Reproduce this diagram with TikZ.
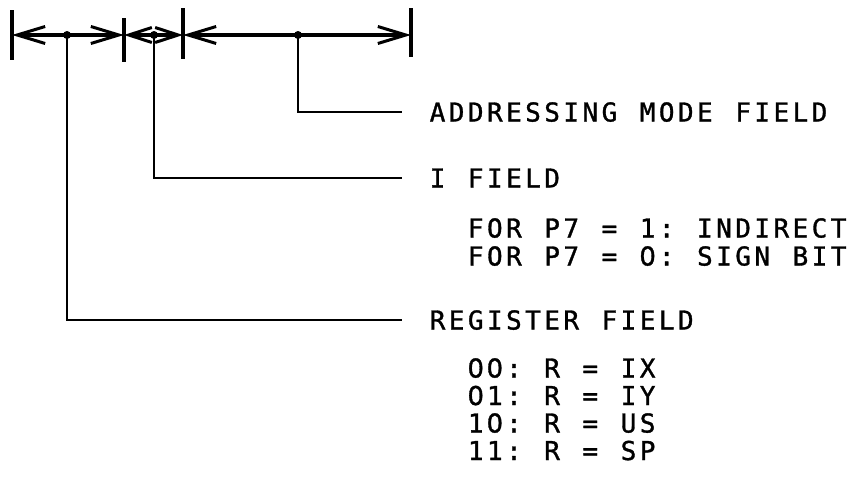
\documentclass[tikz,border=0pt]{standalone}
\usepackage{fontspec}
\newfontfamily\monof{DejaVu Sans Mono}[BoldFont={*},BoldFeatures={FakeBold=1.2}]
\newfontfamily\zerof{DejaVu Sans}[BoldFont={*},BoldFeatures={FakeBold=1.2}]
\usetikzlibrary{arrows.meta}
\newlength\cellwd
\setlength\cellwd{19.1pt}
\newcommand\Zr{{\zerof 0}}
\def\mycellloop#1{\ifx#1\relax\else\makebox[\cellwd][c]{#1}\expandafter\mycellloop\fi}
\newcommand\monotext[1]{\mycellloop#1\relax}
\begin{document}
\begin{tikzpicture}[x=1pt,y=-1pt,
  dim/.style={line width=3.2pt},
  lead/.style={line width=2.6pt},
  barb/.style={-{Straight Barb[length=28pt,width=17pt,line width=3pt]}},
  sbarb/.style={-{Straight Barb[length=23pt,width=15pt,line width=3pt]}},
  lbl/.style={inner sep=0pt, outer xsep=26pt, outer ysep=0pt, anchor=west,
    text height=19pt, text depth=0pt, font=\monof\bfseries\fontsize{26}{28}\selectfont},
  dotc/.style={circle, fill, inner sep=0pt, minimum size=8pt}
]
\useasboundingbox (0,0) rectangle (851,479);
% tick positions
\coordinate (t0) at (12,35);
\coordinate (t1) at (124,35);
\coordinate (t2) at (183,35);
\coordinate (t3) at (411,35);
% ticks
\draw[dim] ([yshift=25pt]t0) -- ([yshift=-25pt]t0);
\draw[dim] ([yshift=17pt]t1) -- ([yshift=-27pt]t1);
\draw[dim] ([yshift=27pt]t2) -- ([yshift=-24pt]t2);
\draw[dim] ([yshift=27pt]t3) -- ([yshift=-22pt]t3);
% labels
\node[lbl] (addr) at (402,112) {\monotext{ADDRESSING\ MODE\ FIELD}};
\node[lbl] (ifld) at (402,178) {\monotext{I\ FIELD}};
\node[lbl] (forA) at (440.2,228) {\monotext{FOR\ P7\ =\ 1:\ INDIRECT}};
\node[lbl] (forB) at (440.2,256) {\monotext{FOR\ P7\ =\ \Zr:\ SIGN\ BIT}};
\node[lbl] (reg) at (402,320) {\monotext{REGISTER\ FIELD}};
\node[lbl] (rA) at (440.2,368) {\monotext{\Zr\Zr:\ R\ =\ IX}};
\node[lbl] (rB) at (440.2,395.5) {\monotext{\Zr1:\ R\ =\ IY}};
\node[lbl] (rC) at (440.2,423) {\monotext{1\Zr:\ R\ =\ US}};
\node[lbl] (rD) at (440.2,450.5) {\monotext{11:\ R\ =\ SP}};
% dots
\node[dotc] (d1) at (67,35) {};
\node[dotc] (d2) at (154,35) {};
\node[dotc] (d3) at (298,35) {};
% dimension arrows
\draw[dim,barb] (d1.center) -- (t0);
\draw[dim,barb] (d1.center) -- (t1);
\draw[dim,sbarb] (d2.center) -- (t1);
\draw[dim,sbarb] (d2.center) -- (t2);
\draw[dim,barb] (d3.center) -- (t2);
\draw[dim,barb] (d3.center) -- (t3);
% leaders
\draw[lead] (d3.center) |- (addr.west);
\draw[lead] (d2.center) |- (ifld.west);
\draw[lead] (d1.center) |- (reg.west);
\end{tikzpicture}
\end{document}
